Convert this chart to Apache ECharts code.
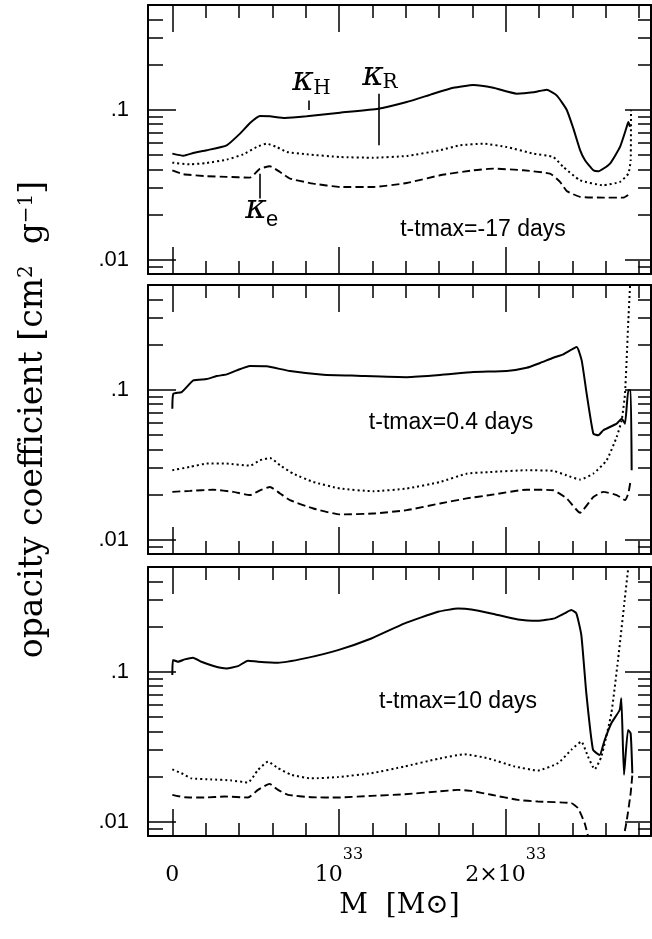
<!DOCTYPE html>
<html>
<head>
<meta charset="utf-8">
<script src="https://cdn.jsdelivr.net/npm/echarts@6.0.0/dist/echarts.min.js"></script>
<style>
  html, body { margin: 0; padding: 0; background: #fff; }
  #chart { width: 652px; height: 939px; }
</style>
</head>
<body>
<div id="chart"></div>
<script>
  // x: mass coordinate in units of 1e33 g, y: opacity [cm^2 g^-1]
  const p1Solid = [[0,0.0509],[0.066,0.0493],[0.126,0.0514],[0.206,0.0536],[0.326,0.0578],[0.406,0.0692],[0.466,0.0815],[0.526,0.0908],[0.586,0.0903],[0.676,0.0880],[0.806,0.0903],[1.006,0.0955],[1.236,0.1015],[1.406,0.1125],[1.566,0.1279],[1.686,0.140],[1.806,0.146],[1.926,0.140],[2.066,0.128],[2.166,0.1306],[2.246,0.1359],[2.306,0.1247],[2.366,0.100],[2.406,0.075],[2.446,0.054],[2.476,0.046],[2.526,0.0394],[2.556,0.0388],[2.626,0.0437],[2.686,0.0564],[2.726,0.0766],[2.736,0.0828],[2.746,0.077]];
  const p1Dotted = [[0,0.0443],[0.106,0.0432],[0.206,0.0441],[0.326,0.0464],[0.426,0.0504],[0.506,0.0564],[0.566,0.0593],[0.626,0.0564],[0.686,0.0522],[0.806,0.0504],[1.006,0.0483],[1.206,0.0478],[1.406,0.0491],[1.606,0.0536],[1.726,0.0578],[1.866,0.0593],[2.006,0.0564],[2.166,0.0509],[2.286,0.0483],[2.346,0.0415],[2.446,0.0338],[2.586,0.0313],[2.686,0.0330],[2.736,0.0374],[2.75,0.0459],[2.752,0.099]];
  const p1Dashed = [[0,0.0394],[0.066,0.0371],[0.206,0.0360],[0.326,0.0356],[0.466,0.0352],[0.526,0.0404],[0.586,0.0419],[0.646,0.0384],[0.706,0.0347],[0.846,0.0321],[1.006,0.0305],[1.206,0.0305],[1.406,0.0324],[1.606,0.0365],[1.806,0.0394],[1.926,0.0404],[2.106,0.0394],[2.266,0.0374],[2.326,0.0330],[2.366,0.0287],[2.446,0.0262],[2.586,0.0259],[2.706,0.0259],[2.746,0.0275]];

  const p2Solid = [[0,0.0747],[0.006,0.094],[0.056,0.0964],[0.126,0.1153],[0.206,0.1178],[0.266,0.1233],[0.326,0.1265],[0.386,0.1345],[0.466,0.1439],[0.566,0.1432],[0.706,0.1332],[0.906,0.1259],[1.106,0.1239],[1.406,0.1213],[1.606,0.1252],[1.806,0.1312],[2.006,0.1332],[2.126,0.140],[2.206,0.1507],[2.286,0.1635],[2.346,0.172],[2.426,0.1925],[2.456,0.157],[2.486,0.094],[2.526,0.0509],[2.556,0.0497],[2.586,0.0536],[2.666,0.0593],[2.696,0.0641],[2.716,0.0593],[2.736,0.099],[2.75,0.099],[2.756,0.029]];
  const p2Dotted = [[0,0.0290],[0.106,0.0305],[0.206,0.0321],[0.326,0.0321],[0.466,0.0311],[0.526,0.0338],[0.586,0.0350],[0.646,0.0313],[0.726,0.0275],[0.846,0.0242],[1.006,0.0219],[1.206,0.0210],[1.406,0.0219],[1.606,0.0242],[1.766,0.0275],[1.906,0.0282],[2.126,0.0290],[2.286,0.0287],[2.366,0.0268],[2.446,0.0251],[2.526,0.0275],[2.606,0.0338],[2.666,0.0483],[2.696,0.0625],[2.716,0.094],[2.736,0.29],[2.75,0.6]];
  const p2Dashed = [[0,0.0208],[0.106,0.0211],[0.246,0.0215],[0.366,0.0208],[0.466,0.0198],[0.526,0.0213],[0.586,0.0224],[0.646,0.0203],[0.706,0.0183],[0.846,0.0161],[1.006,0.0147],[1.206,0.0149],[1.406,0.0157],[1.606,0.0174],[1.766,0.0188],[1.906,0.0198],[2.126,0.0215],[2.286,0.0213],[2.366,0.0188],[2.446,0.0151],[2.526,0.0192],[2.586,0.0208],[2.666,0.0198],[2.716,0.0183],[2.736,0.0203],[2.75,0.0249]];

  const p3Solid = [[0,0.095],[0.004,0.1197],[0.034,0.1166],[0.074,0.1208],[0.124,0.1239],[0.174,0.1166],[0.274,0.107],[0.324,0.1052],[0.394,0.109],[0.454,0.1184],[0.514,0.1166],[0.634,0.1148],[0.794,0.1227],[0.994,0.1394],[1.194,0.1667],[1.394,0.210],[1.594,0.251],[1.714,0.264],[1.794,0.2605],[1.914,0.245],[2.074,0.2233],[2.194,0.2188],[2.294,0.227],[2.354,0.245],[2.394,0.2577],[2.424,0.245],[2.454,0.1756],[2.484,0.0717],[2.524,0.0301],[2.564,0.0278],[2.594,0.035],[2.634,0.0453],[2.684,0.0555],[2.694,0.0664],[2.71,0.0205],[2.734,0.0408],[2.75,0.0388],[2.76,0.021]];
  const p3Dotted = [[0,0.0223],[0.054,0.0210],[0.114,0.0194],[0.234,0.0191],[0.354,0.0188],[0.454,0.0182],[0.514,0.0221],[0.574,0.0251],[0.634,0.0227],[0.714,0.0205],[0.834,0.0194],[0.994,0.0198],[1.194,0.0210],[1.394,0.0233],[1.594,0.0262],[1.754,0.0281],[1.894,0.0264],[2.054,0.0233],[2.194,0.0219],[2.314,0.0245],[2.394,0.0301],[2.454,0.0341],[2.494,0.0271],[2.534,0.0223],[2.574,0.0271],[2.634,0.0527],[2.674,0.1197],[2.714,0.301],[2.744,0.6]];
  const p3Dashed = [[0,0.01507],[0.074,0.01452],[0.194,0.01445],[0.314,0.01468],[0.454,0.01445],[0.514,0.01626],[0.584,0.01782],[0.634,0.01626],[0.694,0.01507],[0.834,0.01452],[0.994,0.01445],[1.194,0.01483],[1.394,0.0152],[1.594,0.01585],[1.714,0.01626],[1.794,0.016],[1.914,0.01507],[2.074,0.01393],[2.194,0.01359],[2.394,0.01325],[2.434,0.01227],[2.474,0.00975],[2.504,0.0072],[2.6,null],[2.70,0.0072],[2.724,0.00975],[2.75,0.01545],[2.76,0.0205]];

  const panelLabels = ['t-tmax=-17 days', 't-tmax=0.4 days', 't-tmax=10 days'];

  const xMajorTicks = [0, 1, 2];
  const xMinorTicks = [0.2, 0.4, 0.6, 0.8, 1.2, 1.4, 1.6, 1.8, 2.2, 2.4, 2.6, 2.8];
  // two lines: exponent on top, mantissa below (transparent fillers keep them aligned)
  const xTickLabels = ['{h| }\n{b|0}', '{hb|10}{s|33}\n{b|10}{hs|33}', '{hb|2×10}{s|33}\n{b|2×10}{hs|33}'];
  const yMajorTicks = [0.01, 0.1];
  const yMinorTicks = [0.008, 0.009, 0.02, 0.03, 0.04, 0.05, 0.06, 0.07, 0.08, 0.09, 0.2, 0.3, 0.4, 0.5];
  const yTickLabels = ['.01', '.1'];

  // pointer lines for the kappa labels (top panel)
  const kHPointer = [[0.82, 0.1153], [0.82, 0.0996]];
  const kRPointer = [[1.236, 0.128], [1.236, 0.0578]];
  const kePointer = [[0.526, 0.0374], [0.526, 0.0255]];

  const XMIN = -0.146, XMAX = 2.872, YMIN = 0.008, YMAX = 0.5;
  const gridTops = [5, 285, 567];
  const SERIF = '"DejaVu Serif", serif';
  const SANS = '"Liberation Sans", Arial, sans-serif';

  const chart = echarts.init(document.getElementById('chart'));

  function pick(list, labels, v) {
    let best = 0;
    list.forEach((t, i) => { if (Math.abs(t - v) < Math.abs(list[best] - v)) best = i; });
    return labels[best];
  }

  const grid = gridTops.map(t => ({
    left: 148, width: 503, top: t, height: 269, containLabel: false, outerBoundsMode: 'none'
  }));

  const base = { fontFamily: SERIF, fontSize: 22, lineHeight: 22, color: '#000' };
  const sup = { fontFamily: SERIF, fontSize: 16, lineHeight: 19, color: '#000' };

  const xAxis = [];
  const yAxis = [];
  gridTops.forEach((t, gi) => {
    const last = gi === gridTops.length - 1;
    [['bottom', xMajorTicks, 27, true], ['bottom', xMinorTicks, 13, false],
     ['top', xMajorTicks, 27, true], ['top', xMinorTicks, 13, false]].forEach(([pos, ticks, len, line]) => {
      const withLabels = last && pos === 'bottom' && line;
      xAxis.push({
        type: 'value', gridIndex: gi, position: pos, min: XMIN, max: XMAX,
        axisLine: { show: line, onZero: false, lineStyle: { color: '#000', width: 2 } },
        axisTick: { show: true, inside: true, length: len, customValues: ticks, lineStyle: { color: '#000', width: 1.5 } },
        axisLabel: withLabels ? {
          show: true, customValues: xMajorTicks, margin: 9, color: '#000',
          formatter: v => pick(xMajorTicks, xTickLabels, v),
          rich: {
            b: base,
            hb: Object.assign({}, base, { color: 'rgba(0,0,0,0)', lineHeight: 19 }),
            s: sup,
            hs: Object.assign({}, sup, { color: 'rgba(0,0,0,0)', lineHeight: 22 }),
            h: Object.assign({}, sup, { color: 'rgba(0,0,0,0)' })
          }
        } : { show: false },
        splitLine: { show: false },
        name: withLabels ? 'M  [M\u2299]' : '',
        nameLocation: 'middle', nameGap: 56,
        nameTextStyle: { fontFamily: SERIF, fontSize: 28, color: '#000' }
      });
    });
    [['left', yMajorTicks, 28, true], ['left', yMinorTicks, 15, false],
     ['right', yMajorTicks, 26, true], ['right', yMinorTicks, 13, false]].forEach(([pos, ticks, len, line]) => {
      const withLabels = pos === 'left' && line;
      const withName = withLabels && gi === 1;
      yAxis.push({
        type: 'log', logBase: 10, gridIndex: gi, position: pos, min: YMIN, max: YMAX,
        axisLine: { show: line, onZero: false, lineStyle: { color: '#000', width: 2 } },
        axisTick: { show: true, inside: true, length: len, customValues: ticks, lineStyle: { color: '#000', width: 1.5 } },
        axisLabel: withLabels ? {
          show: true, customValues: yMajorTicks, margin: 19, color: '#000',
          fontFamily: SANS, fontSize: 22,
          formatter: v => pick(yMajorTicks, yTickLabels, v)
        } : { show: false },
        splitLine: { show: false },
        minorTick: { show: false },
        name: withName ? 'opacity coefficient [cm{s|2}  g{s|\u22121}]' : '',
        nameLocation: 'middle', nameGap: 98, nameRotate: 90,
        nameTextStyle: {
          fontFamily: SERIF, fontSize: 33, color: '#000',
          rich: {
            s: { fontFamily: SERIF, fontSize: 20, color: '#000', verticalAlign: 'top' }
          }
        }
      });
    });
  });

  const styles = [
    { type: 'solid', width: 2 },
    { type: [2, 3], width: 2 },
    { type: [8, 4], width: 1.9 }
  ];
  const panels = [
    [p1Solid, p1Dotted, p1Dashed],
    [p2Solid, p2Dotted, p2Dashed],
    [p3Solid, p3Dotted, p3Dashed]
  ];
  const series = [];
  panels.forEach((sets, gi) => {
    sets.forEach((data, si) => {
      const s = {
        type: 'line', xAxisIndex: gi * 4, yAxisIndex: gi * 4, data: data,
        showSymbol: false, symbol: 'none', smooth: 0.15,
        connectNulls: false, clip: true,
        lineStyle: { color: '#000', width: styles[si].width, type: styles[si].type, cap: 'butt' },
        silent: true
      };
      if (gi === 0 && si === 0) {
        s.markLine = {
          silent: true, symbol: ['none', 'none'], label: { show: false },
          lineStyle: { color: '#000', width: 1.6, type: 'solid' },
          data: [kHPointer, kRPointer, kePointer].map(p => [{ coord: p[0] }, { coord: p[1] }])
        };
      }
      series.push(s);
    });
  });

  const labelPos = [[483, 230], [451, 423], [458, 702]];
  const graphic = panelLabels.map((txt, i) => ({
    type: 'text', silent: true,
    style: {
      x: labelPos[i][0], y: labelPos[i][1], text: txt,
      font: '23px ' + SANS, fill: '#000',
      align: 'center', verticalAlign: 'middle', textAlign: 'center', textVerticalAlign: 'middle'
    }
  }));
  const kappas = [
    ['\u03ba', 303, 81, 'italic 33px ' + SERIF],
    ['H', 322, 89, '20px ' + SERIF],
    ['\u03ba', 373, 76, 'italic 33px ' + SERIF],
    ['R', 390, 83, '20px ' + SERIF],
    ['\u03ba', 256, 209, 'italic 33px ' + SERIF],
    ['e', 272, 220, '22px ' + SANS]
  ];
  kappas.forEach(([t, x, y, f]) => graphic.push({
    type: 'text', silent: true,
    style: { x: x, y: y, text: t, font: f, fill: '#000', align: 'center', verticalAlign: 'middle', textAlign: 'center', textVerticalAlign: 'middle' }
  }));

  chart.setOption({
    animation: false,
    backgroundColor: '#fff',
    grid: grid,
    xAxis: xAxis,
    yAxis: yAxis,
    series: series,
    graphic: graphic
  });
</script>
</body>
</html>
